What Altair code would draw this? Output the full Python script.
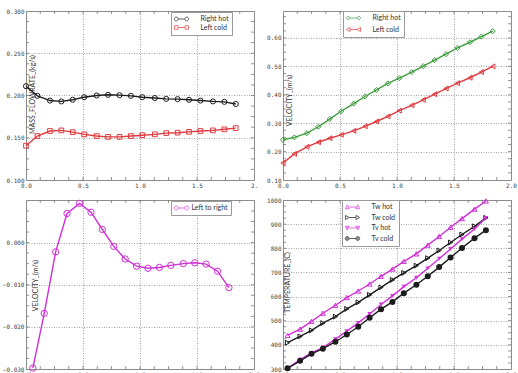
import altair as alt
import pandas as pd

# ---------------- data ----------------
x_top = [0.00, 0.10, 0.21, 0.31, 0.41, 0.51, 0.62, 0.72, 0.82, 0.92,
         1.02, 1.13, 1.23, 1.33, 1.43, 1.53, 1.64, 1.74, 1.84]
mass_right_hot = [0.211, 0.1996, 0.194, 0.193, 0.195, 0.198, 0.200, 0.2008, 0.2004, 0.1996,
                  0.198, 0.197, 0.196, 0.1957, 0.1949, 0.194, 0.193, 0.1925, 0.190]
mass_left_cold = [0.1406, 0.152, 0.158, 0.1587, 0.1567, 0.154, 0.152, 0.151, 0.151, 0.152,
                  0.153, 0.154, 0.1555, 0.156, 0.157, 0.158, 0.1587, 0.160, 0.1614]
vel_right_hot = [0.2415, 0.250, 0.265, 0.2875, 0.3146, 0.342, 0.369, 0.394, 0.417, 0.440,
                 0.4585, 0.480, 0.501, 0.522, 0.543, 0.565, 0.585, 0.605, 0.624]
vel_left_cold = [0.160, 0.192, 0.217, 0.233, 0.247, 0.259, 0.273, 0.289, 0.306, 0.324,
                 0.344, 0.363, 0.382, 0.402, 0.422, 0.441, 0.460, 0.480, 0.500]

x_mid = [0.06, 0.16, 0.26, 0.36, 0.47, 0.57, 0.67, 0.77, 0.87, 0.97,
         1.07, 1.17, 1.27, 1.38, 1.48, 1.58, 1.68, 1.78]
vel_left_to_right = [-0.0298, -0.0168, -0.0022, 0.0069, 0.0093, 0.0072, 0.0031, -0.0009, -0.0039,
                     -0.0056, -0.0061, -0.0059, -0.0054, -0.0050, -0.0048, -0.0051, -0.0068, -0.0107]

x_temp = [0.04, 0.15, 0.25, 0.35, 0.46, 0.56, 0.66, 0.76, 0.86, 0.96,
          1.06, 1.17, 1.27, 1.37, 1.47, 1.57, 1.68, 1.78]
tw_hot = [439, 465, 497, 531, 564, 596, 623, 652, 684, 714, 746, 777, 813, 849, 887, 923, 962, 996]
tw_cold = [409, 435, 460, 490, 517, 549, 576, 607, 638, 669, 698, 728, 759, 791, 824, 857, 891, 926]
tv_hot = [303, 339, 367, 389, 424, 457, 491, 528, 567, 603, 641, 678, 717, 757, 797, 838, 880, 926]
tv_cold = [303, 334, 363, 384, 413, 443, 475, 512, 548, 578, 614, 649, 684, 722, 762, 801, 842, 875]

# ---------------- style ----------------
W, H = 228, 169
TICK_FONT = "DejaVu Sans Mono"
TEXT_FONT = "Lato"
GRID = "#8a8a8a"
BLACK = "#1c1c1c"
RED = "#e23a3f"
GREEN = "#3c9c3c"
MAGENTA = "#d12fd6"


def circle_at(c, r=0.55):
    return f"M{c - r},0A{r},{r} 0 1,1 {c + r},0A{r},{r} 0 1,1 {c - r},0Z"


# legend glyphs: a short line with a marker at each end
def glyph(kind):
    parts = []
    for c in (-1.5, 1.5):
        if kind == "circle":
            parts.append(circle_at(c))
        elif kind == "square":
            parts.append(f"M{c - 0.5},-0.5H{c + 0.5}V0.5H{c - 0.5}Z")
        elif kind == "diamond":
            parts.append(f"M{c - 0.55},0L{c},-0.6L{c + 0.55},0L{c},0.6Z")
        elif kind == "triangle-left":
            parts.append(f"M{c - 0.55},0L{c + 0.5},-0.6L{c + 0.5},0.6Z")
        elif kind == "triangle-up":
            parts.append(f"M{c},-0.6L{c + 0.55},0.5L{c - 0.55},0.5Z")
        elif kind == "triangle-right":
            parts.append(f"M{c + 0.55},0L{c - 0.5},-0.6L{c - 0.5},0.6Z")
        elif kind == "triangle-down":
            parts.append(f"M{c},0.6L{c + 0.55},-0.5L{c - 0.55},-0.5Z")
    return parts[0] + " M-1,0L1,0 " + parts[1]


def minor(lo, hi, step):
    n = int(round((hi - lo) / step))
    return [lo + i * step for i in range(1, n)]


def panel(series, ydomain, ymajor, ystep, yformat, ytitle, title_x, title_y,
          legend_x, legend_y, label_offset, row_pad, x_label_expr=None):
    xscale = alt.Scale(domain=[0, 2], nice=False, zero=False)
    yscale = alt.Scale(domain=ydomain, nice=False, zero=False)

    xaxis_kw = dict(values=[0, 0.5, 1.0, 1.5, 2.0], format=".1f", grid=True, ticks=False,
                    domain=False, labelFlush=False, labelPadding=2, title=None,
                    labelFont=TICK_FONT, labelFontSize=6, labelColor="#444",
                    gridColor=GRID, gridDash=[1, 1.5], gridWidth=0.8)
    if x_label_expr:
        xaxis_kw["labelExpr"] = x_label_expr
    yaxis = alt.Axis(values=ymajor, format=yformat, grid=True, ticks=False, domain=False,
                     labelPadding=2, labelFont=TICK_FONT, labelFontSize=6, labelColor="#444",
                     gridColor=GRID, gridDash=[1, 1.5], gridWidth=0.8,
                     title=ytitle, titleX=title_x, titleY=title_y, titleAngle=270,
                     titleAlign="center", titleBaseline="middle", titleFont=TEXT_FONT,
                     titleFontSize=7, titleFontWeight="normal", titleColor="#333")

    frames = []
    for s in series:
        frames.append(pd.DataFrame({"x": s["x"], "y": s["y"], "series": s["name"]}))
    df = pd.concat(frames, ignore_index=True)

    X = alt.X("x:Q", scale=xscale, axis=alt.Axis(**xaxis_kw))
    Y = alt.Y("y:Q", scale=yscale, axis=yaxis)

    layers = []

    # inward ticks on all four sides of the frame
    xt = pd.DataFrame({"v": minor(0, 2, 0.125)})
    yt = pd.DataFrame({"v": minor(ydomain[0], ydomain[1], ystep)})
    for y0, y1 in ((0, 3), (H, H - 3)):
        layers.append(alt.Chart(xt).mark_rule(color="#777", strokeWidth=0.8).encode(
            x=alt.X("v:Q", scale=xscale, axis=alt.Axis(**xaxis_kw)), y=alt.value(y0), y2=alt.value(y1)))
    for x0, x1 in ((0, 3), (W, W - 3)):
        layers.append(alt.Chart(yt).mark_rule(color="#777", strokeWidth=0.8).encode(
            y=alt.Y("v:Q", scale=yscale, axis=yaxis), x=alt.value(x0), x2=alt.value(x1)))

    for s in series:
        sub = alt.Chart(df).transform_filter(alt.datum.series == s["name"])
        layers.append(sub.mark_line(color=s["color"], strokeWidth=1.4).encode(x=X, y=Y))
        layers.append(sub.mark_point(shape=s["shape"], filled=s["filled"], color=s["color"],
                                     size=s["size"], strokeWidth=1, opacity=1).encode(x=X, y=Y))

    names = [s["name"] for s in series]
    leg = alt.Legend(orient="none", legendX=legend_x, legendY=legend_y, title=None,
                     fillColor="white", strokeColor="#9a9a9a", padding=3,
                     symbolSize=49, symbolStrokeWidth=1, symbolOffset=3.5,
                     labelOffset=label_offset, rowPadding=row_pad,
                     labelFont=TEXT_FONT, labelFontSize=7, labelColor="#333")
    legend_layer = alt.Chart(df).transform_filter("false").mark_point().encode(
        x=X, y=Y,
        color=alt.Color("series:N", scale=alt.Scale(domain=names, range=[s["color"] for s in series]), legend=leg),
        fill=alt.Fill("series:N", scale=alt.Scale(domain=names, range=[s["color"] if s["filled"] else "white" for s in series]), legend=leg),
        shape=alt.Shape("series:N", scale=alt.Scale(domain=names, range=[glyph(s["shape"]) for s in series]), legend=leg),
    )
    layers.append(legend_layer)

    return alt.layer(*layers).properties(width=W, height=H)


p1 = panel(
    [dict(name="Right hot", x=x_top, y=mass_right_hot, color=BLACK, shape="circle", filled=False, size=26),
     dict(name="Left cold", x=x_top, y=mass_left_cold, color=RED, shape="square", filled=False, size=22)],
    [0.1, 0.3], [0.1, 0.15, 0.2, 0.25, 0.3], 0.0125, ".3f", "MASS_FLOWRATE_(kg/s)", 6, 83,
    145, 1, 15, 0.5, x_label_expr="datum.value == 2 ? '2.' : datum.label")

p2 = panel(
    [dict(name="Right hot", x=x_top, y=vel_right_hot, color=GREEN, shape="diamond", filled=False, size=26),
     dict(name="Left cold", x=x_top, y=vel_left_cold, color=RED, shape="triangle-left", filled=False, size=24)],
    [0.1, 0.695], [0.1, 0.2, 0.3, 0.4, 0.5, 0.6], 0.025, ".2f", "VELOCITY_(m/s)", 6, 89,
    60, 0, 15, 1.5)

p3 = panel(
    [dict(name="Left to right", x=x_mid, y=vel_left_to_right, color=MAGENTA, shape="circle", filled=False, size=40)],
    [-0.03, 0.0101], [-0.03, -0.02, -0.01, 0.0], 0.0025, ".3f", "VELOCITY_(m/s)", 9, 85,
    145, 1, 6, 0)

p4 = panel(
    [dict(name="Tw hot", x=x_temp, y=tw_hot, color=MAGENTA, shape="triangle-up", filled=False, size=24),
     dict(name="Tw cold", x=x_temp, y=tw_cold, color=BLACK, shape="triangle-right", filled=False, size=24),
     dict(name="Tv hot", x=x_temp, y=tv_hot, color=MAGENTA, shape="triangle-down", filled=True, size=20),
     dict(name="Tv cold", x=x_temp, y=tv_cold, color=BLACK, shape="circle", filled=True, size=36)],
    [300, 1000], [300, 400, 500, 600, 700, 800, 900, 1000], 25, "d", "TEMPERATURE_(C)", 4, 82,
    59, 0, 15, 1.5)

chart = alt.concat(p1, p2, p3, p4, columns=2, bounds="flush",
                   spacing={"row": 20, "column": 29}).resolve_scale(
    color="independent", fill="independent", shape="independent"
).properties(
    padding={"left": 1, "top": 7, "right": 0, "bottom": 0},
    background="white",
).configure_view(stroke="#8c8c8c", strokeWidth=1)

chart.save("out.html", embed_options={"renderer": "svg", "actions": False})
